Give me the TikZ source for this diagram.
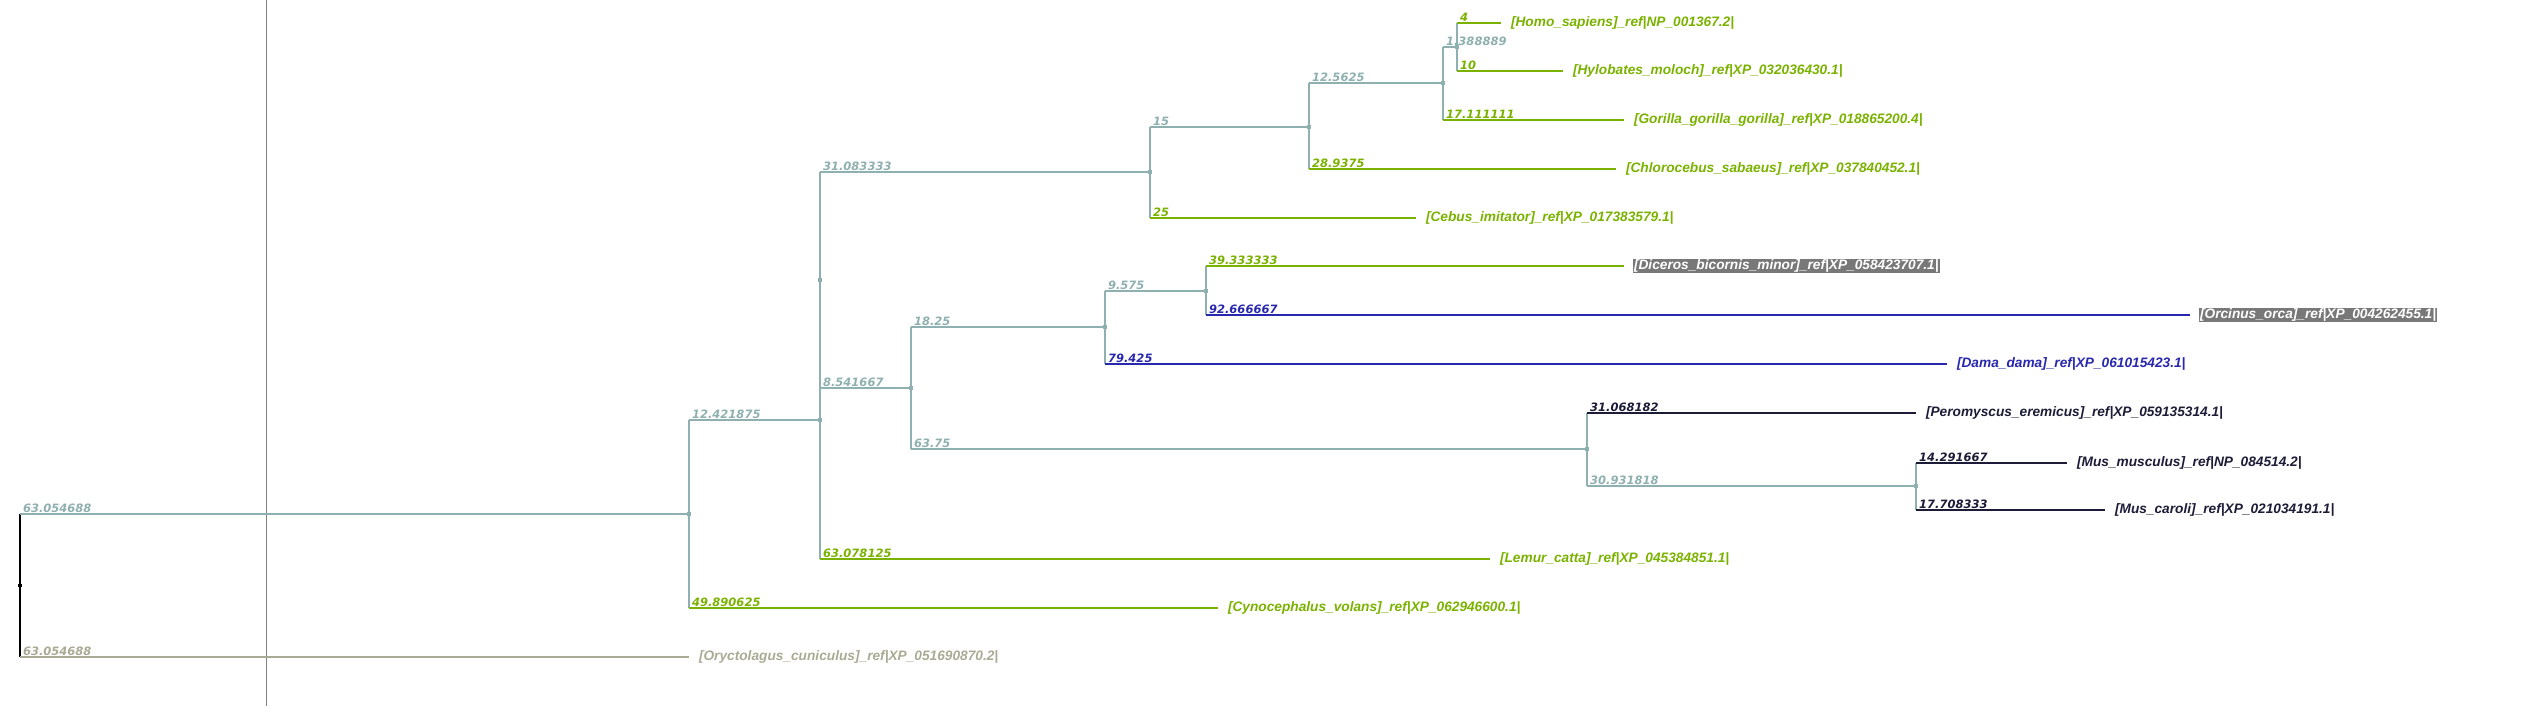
\documentclass[tikz,border=0pt]{standalone}
\usepackage{fontspec}
\setmainfont{Liberation Sans}
\newfontfamily\lenfont{DejaVu Sans}
\definecolor{treeteal}{RGB}{143,176,176}
\definecolor{treegreen}{RGB}{122,178,0}
\definecolor{treeblue}{RGB}{40,40,175}
\definecolor{treenavy}{RGB}{28,28,56}
\definecolor{treeolive}{RGB}{170,170,148}
\definecolor{axisgrey}{RGB}{128,128,128}
\definecolor{boxgrey}{RGB}{120,120,120}
\begin{document}
\begin{tikzpicture} [
                x=1pt, y=-1pt,
                inner/.style={rectangle,fill=treeteal,minimum size=3.5pt,inner sep=0pt},
                root/.style={inner, fill=black},
                branch/.style={draw,line width=1.2pt,-},
                blen/.style={font=\lenfont\bfseries\itshape\fontsize{11.5}{12}\selectfont,anchor=base west,inner sep=0pt},
                leaf/.style={font=\bfseries\itshape\fontsize{13.7}{14}\selectfont,anchor=west,inner sep=1pt,outer xsep=9pt},
                hidden leaf/.style={leaf, fill=boxgrey},
            ]
            \useasboundingbox (0,0) rectangle (2542,706);
            % the scale line
            \coordinate (axistop) at (266,0);
            \coordinate (axisbot) at (266,706);
            \draw[axisgrey, line width=1pt] (axistop) -- (axisbot);
            % First we draw the inner vertices
            \foreach \pos/\name in {
                    {(689,514)/n1}, {(820,420)/n2}, {(820,280)/n3}, {(1150,172)/n4},
                    {(1309,127)/n5}, {(1443,83)/n6}, {(1457,47)/n7}, {(911,388)/n8},
                    {(1105,327)/n9}, {(1206,291)/n10}, {(1587,449)/n11}, {(1916,486)/n12}}
                \node[inner] (\name) at \pos {};
            \node[root] (R) at (20,585.7) {};
            % then the leaves, placed where their edge ends
            \foreach \pos/\name/\col/\sty/\txt in {
                    {(1501,23)/homo/treegreen/leaf/{[Homo\_sapiens]\_ref|NP\_001367.2|}},
                    {(1563,71)/hylo/treegreen/leaf/{[Hylobates\_moloch]\_ref|XP\_032036430.1|}},
                    {(1624,120)/gorilla/treegreen/leaf/{[Gorilla\_gorilla\_gorilla]\_ref|XP\_018865200.4|}},
                    {(1616,169)/chloro/treegreen/leaf/{[Chlorocebus\_sabaeus]\_ref|XP\_037840452.1|}},
                    {(1416,218)/cebus/treegreen/leaf/{[Cebus\_imitator]\_ref|XP\_017383579.1|}},
                    {(1624,266)/diceros/white/hidden leaf/{[Diceros\_bicornis\_minor]\_ref|XP\_058423707.1|}},
                    {(2190,315)/orca/white/hidden leaf/{[Orcinus\_orca]\_ref|XP\_004262455.1|}},
                    {(1947,364)/dama/treeblue/leaf/{[Dama\_dama]\_ref|XP\_061015423.1|}},
                    {(1916,413)/peromys/treenavy/leaf/{[Peromyscus\_eremicus]\_ref|XP\_059135314.1|}},
                    {(2067,463)/musmus/treenavy/leaf/{[Mus\_musculus]\_ref|NP\_084514.2|}},
                    {(2105,510)/muscar/treenavy/leaf/{[Mus\_caroli]\_ref|XP\_021034191.1|}},
                    {(1490,559)/lemur/treegreen/leaf/{[Lemur\_catta]\_ref|XP\_045384851.1|}},
                    {(1218,608)/cyno/treegreen/leaf/{[Cynocephalus\_volans]\_ref|XP\_062946600.1|}},
                    {(689,657)/oryct/treeolive/leaf/{[Oryctolagus\_cuniculus]\_ref|XP\_051690870.2|}}}
                \node[\sty, text=\col] (\name) at \pos {\txt};
            % Connect vertices with edges and draw lengths
            \foreach \source/\dest/\len/\col/\vcol in {
                    R/n1/63.054688/treeteal/black, R/oryct/63.054688/treeolive/black,
                    n1/n2/12.421875/treeteal/treeteal, n1/cyno/49.890625/treegreen/treeteal,
                    n2/lemur/63.078125/treegreen/treeteal,
                    n3/n4/31.083333/treeteal/treeteal, n3/n8/8.541667/treeteal/treeteal,
                    n4/n5/15/treeteal/treeteal, n4/cebus/25/treegreen/treeteal,
                    n5/n6/12.5625/treeteal/treeteal, n5/chloro/28.9375/treegreen/treeteal,
                    n6/n7/1.388889/treeteal/treeteal, n6/gorilla/17.111111/treegreen/treeteal,
                    n7/homo/4/treegreen/treeteal, n7/hylo/10/treegreen/treeteal,
                    n8/n9/18.25/treeteal/treeteal, n8/n11/63.75/treeteal/treeteal,
                    n9/n10/9.575/treeteal/treeteal, n9/dama/79.425/treeblue/treeteal,
                    n10/diceros/39.333333/treegreen/treeteal, n10/orca/92.666667/treeblue/treeteal,
                    n11/peromys/31.068182/treenavy/treeteal, n11/n12/30.931818/treeteal/treeteal,
                    n12/musmus/14.291667/treenavy/treeteal, n12/muscar/17.708333/treenavy/treeteal}
                {
                \path[branch, \vcol] (\source.center) -- (\source.center |- \dest.west);
                \path[branch, \col] (\source.center |- \dest.west) -- (\dest.west)
                    node[blen, text=\col, pos=0, xshift=2.5pt, yshift=1.5pt] {\len};
                }
            % the zero length edge
            \path[branch, treeteal] (n2.center) -- (n3.center);
            % redraw the vertices on top
            \foreach \vertex in {n1,n2,n3,n4,n5,n6,n7,n8,n9,n10,n11,n12}
                \path node[inner] at (\vertex) {};
            \path node[root] at (R) {};
        \end{tikzpicture}
\end{document}
